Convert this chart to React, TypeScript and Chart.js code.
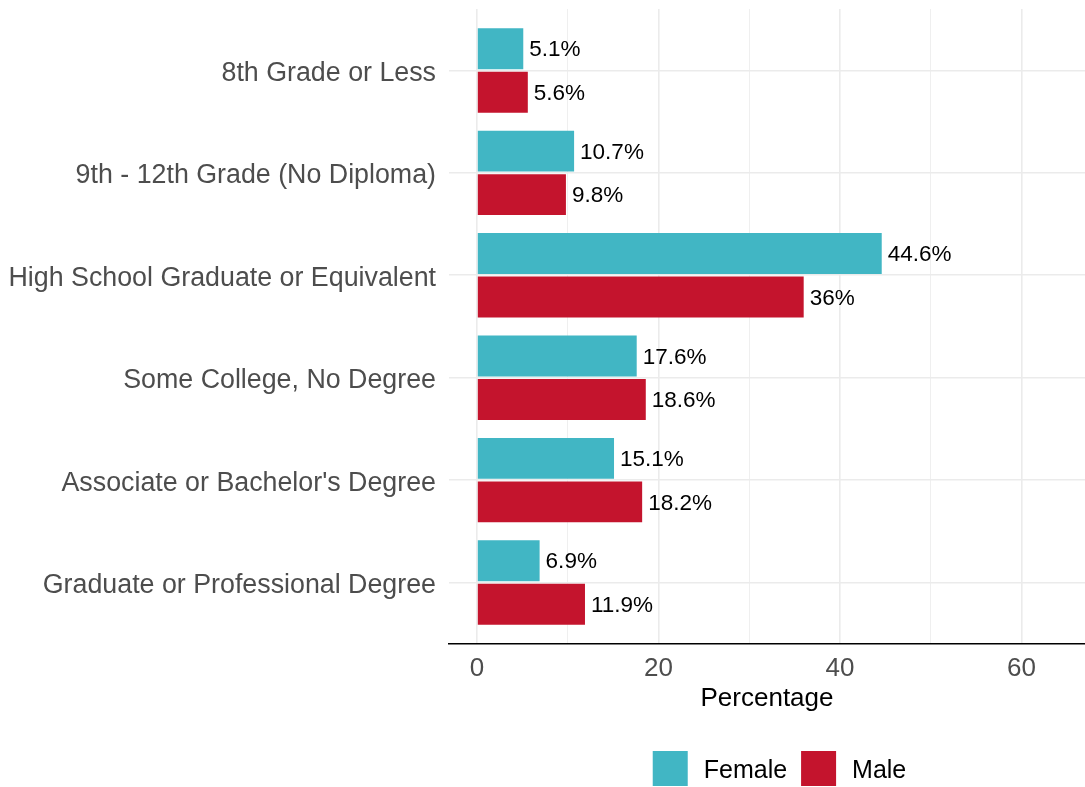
import React, { useEffect, useRef } from 'react';
import { Chart, registerables } from 'chart.js';

Chart.register(...registerables);

const categories = [
  '8th Grade or Less',
  '9th - 12th Grade (No Diploma)',
  'High School Graduate or Equivalent',
  'Some College, No Degree',
  "Associate or Bachelor's Degree",
  'Graduate or Professional Degree',
];
const femaleValues = [5.1, 10.7, 44.6, 17.6, 15.1, 6.9];
const maleValues = [5.6, 9.8, 36, 18.6, 18.2, 11.9];
const seriesNames = ['Female', 'Male'];
const xTickValues = [0, 10, 20, 30, 40, 50, 60];
const xTickLabels = ['0', '', '20', '', '40', '', '60'];
const xAxisTitle = 'Percentage';

const FONT = "'Liberation Sans', Arial, Helvetica, sans-serif";
const FEMALE_COLOR = '#41B6C4';
const MALE_COLOR = '#C4142D';
const GRID = '#EBEBEB';
const TICK_COLOR = '#4D4D4D';

const W = 1085;
const H = 787;

const valueLabels = {
  id: 'valueLabels',
  afterDatasetsDraw(chart: any) {
    const ctx = chart.ctx;
    ctx.save();
    ctx.font = `22.5px ${FONT}`;
    ctx.fillStyle = '#000000';
    ctx.textAlign = 'left';
    ctx.textBaseline = 'middle';
    chart.data.datasets.forEach((ds: any, di: number) => {
      const meta = chart.getDatasetMeta(di);
      meta.data.forEach((el: any, i: number) => {
        const v = ds.data[i].x;
        ctx.fillText(`${v}%`, el.x + 6, el.y + 1.5);
      });
    });
    ctx.restore();
  },
};

const bottomLegend = {
  id: 'bottomLegend',
  afterDraw(chart: any) {
    const ctx = chart.ctx;
    const box = 35;
    const gapText = 16;
    const gapItem = 14;
    ctx.save();
    ctx.font = `25px ${FONT}`;
    const items = chart.data.datasets.map((ds: any) => ({
      label: ds.label as string,
      color: ds.backgroundColor as string,
      w: ctx.measureText(ds.label).width,
    }));
    const total = items.reduce(
      (s: number, it: any, i: number) => s + box + gapText + it.w + (i ? gapItem : 0),
      0
    );
    const cx = (chart.chartArea.left + chart.chartArea.right) / 2 + 12.5;
    let x = cx - total / 2;
    const top = 751;
    items.forEach((it: any, i: number) => {
      if (i) x += gapItem;
      ctx.fillStyle = it.color;
      ctx.fillRect(x, top, box, box);
      x += box + gapText;
      ctx.fillStyle = '#000000';
      ctx.textAlign = 'left';
      ctx.textBaseline = 'middle';
      ctx.fillText(it.label, x, top + box / 2 + 3);
      x += it.w;
    });
    ctx.restore();
  },
};

export default function App() {
  const ref = useRef<HTMLCanvasElement | null>(null);

  useEffect(() => {
    if (!ref.current) return;
    const chart = new Chart(ref.current, {
      type: 'bar',
      data: {
        datasets: [
          {
            label: seriesNames[0],
            data: femaleValues.map((v, i) => ({ x: v, y: i })),
            backgroundColor: FEMALE_COLOR,
            categoryPercentage: 0.85,
            barPercentage: 0.94,
          },
          {
            label: seriesNames[1],
            data: maleValues.map((v, i) => ({ x: v, y: i })),
            backgroundColor: MALE_COLOR,
            categoryPercentage: 0.85,
            barPercentage: 0.94,
          },
        ],
      },
      options: {
        indexAxis: 'y',
        animation: false,
        responsive: false,
        maintainAspectRatio: false,
        layout: { padding: { top: 9, left: 0, right: 0, bottom: 0 } },
        plugins: {
          legend: { display: false },
          tooltip: { enabled: false },
        },
        scales: {
          x: {
            type: 'linear',
            position: 'bottom',
            min: -3.085,
            max: 67.0,
            offset: false,
            afterBuildTicks: (axis: any) => {
              axis.ticks = xTickValues.map((v) => ({ value: v }));
            },
            afterFit: (scale: any) => {
              scale.height = H - 644;
              scale.paddingLeft = 0;
              scale.paddingRight = 0;
              scale.paddingTop = 0;
              scale.paddingBottom = 0;
            },
            grid: {
              color: GRID,
              offset: false,
              lineWidth: (c: any) => (c.tick && c.tick.value % 20 === 0 ? 1.6 : 0.8),
              drawTicks: false,
            },
            border: { display: true, color: '#000000', width: 1.5 },
            ticks: {
              padding: 9,
              color: TICK_COLOR,
              font: { family: FONT, size: 26 },
              maxRotation: 0,
              autoSkip: false,
              callback: (value: any) => {
                const idx = xTickValues.indexOf(Number(value));
                return idx >= 0 ? xTickLabels[idx] : '';
              },
            },
            title: {
              display: true,
              text: xAxisTitle,
              color: '#000000',
              font: { family: FONT, size: 26 },
              padding: { top: 0, bottom: 73 },
            },
          },
          y: {
            type: 'linear',
            reverse: true,
            min: -0.6,
            max: 5.6,
            offset: false,
            afterBuildTicks: (axis: any) => {
              axis.ticks = categories.map((_, i) => ({ value: i }));
            },
            afterFit: (scale: any) => {
              scale.width = 449;
              scale.paddingLeft = 0;
              scale.paddingRight = 0;
              scale.paddingTop = 0;
              scale.paddingBottom = 0;
            },
            grid: { color: GRID, lineWidth: 1.6, drawTicks: false, offset: false },
            border: { display: false },
            ticks: {
              padding: 13,
              labelOffset: 3,
              color: TICK_COLOR,
              font: { family: FONT, size: 26.8 },
              autoSkip: false,
              callback: (value: any) => categories[Number(value)] ?? '',
            },
          },
        },
      },
      plugins: [valueLabels, bottomLegend],
    } as any);
    return () => chart.destroy();
  }, []);

  return (
    <div style={{ position: 'fixed', left: 0, top: 0, width: W, height: H, background: '#ffffff' }}>
      <canvas ref={ref} width={W} height={H} style={{ width: W, height: H, display: 'block' }} />
    </div>
  );
}
